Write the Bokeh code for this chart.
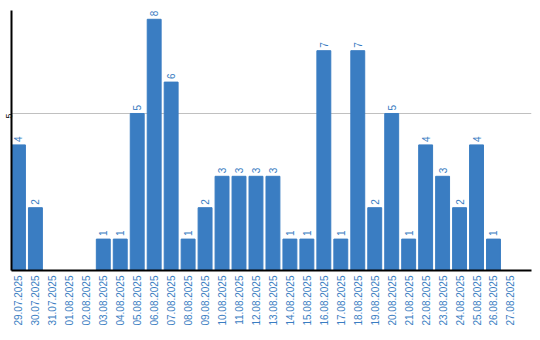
import math
from bokeh.plotting import figure
from bokeh.models import ColumnDataSource, FixedTicker, Range1d
from bokeh.core.properties import value
from bokeh.embed import file_html
from bokeh.resources import INLINE

dates = ["29.07.2025", "30.07.2025", "31.07.2025", "01.08.2025", "02.08.2025",
         "03.08.2025", "04.08.2025", "05.08.2025", "06.08.2025", "07.08.2025",
         "08.08.2025", "09.08.2025", "10.08.2025", "11.08.2025", "12.08.2025",
         "13.08.2025", "14.08.2025", "15.08.2025", "16.08.2025", "17.08.2025",
         "18.08.2025", "19.08.2025", "20.08.2025", "21.08.2025", "22.08.2025",
         "23.08.2025", "24.08.2025", "25.08.2025", "26.08.2025", "27.08.2025"]
counts = [4, 2, 0, 0, 0, 1, 1, 5, 8, 6, 1, 2, 3, 3, 3, 3, 1, 1, 7, 1, 7, 2, 5, 1, 4, 3, 2, 4, 1, 0]

BLUE = "#3a7dc2"

src = ColumnDataSource(dict(
    x=list(range(len(dates))),
    y=counts,
    lab=[str(c) if c > 0 else "" for c in counts],
))

p = figure(width=540, height=340, output_backend="svg", toolbar_location=None,
           x_range=Range1d(-0.41, 30.24), y_range=Range1d(0, 8.28),
           min_border_left=0, min_border_right=9, min_border_top=10, min_border_bottom=70)
p.outline_line_color = None
p.background_fill_color = "white"

p.vbar(x="x", top="y", width=0.82, source=src, color=BLUE)
p.text(x="x", y="y", text="lab", source=src, angle=math.pi / 2, text_align="left",
       text_baseline="middle", x_offset=0, y_offset=-3, text_color=BLUE,
       text_font=value("Liberation Sans"), text_font_size="10px")

p.xgrid.grid_line_color = None
p.ygrid.ticker = FixedTicker(ticks=[5])
p.ygrid.grid_line_color = "#c0c0c0"
p.ygrid.grid_line_width = 1

p.yaxis.ticker = FixedTicker(ticks=[5])
p.yaxis.major_label_orientation = math.pi / 2
p.yaxis.major_tick_line_color = None
p.yaxis.minor_tick_line_color = None
p.yaxis.major_tick_out = 0
p.yaxis.major_tick_in = 0
p.yaxis.minor_tick_out = 0
p.yaxis.axis_line_color = "black"
p.yaxis.axis_line_width = 2
p.yaxis.major_label_text_font = "Liberation Sans"
p.yaxis.major_label_text_font_size = "9px"
p.yaxis.major_label_text_color = "black"
p.yaxis.major_label_standoff = 2

p.xaxis.ticker = FixedTicker(ticks=list(range(len(dates))))
p.xaxis.major_label_overrides = {i: d for i, d in enumerate(dates)}
p.xaxis.major_label_orientation = math.pi / 2
p.xaxis.major_tick_line_color = None
p.xaxis.minor_tick_line_color = None
p.xaxis.major_tick_out = 0
p.xaxis.major_tick_in = 0
p.xaxis.axis_line_color = "black"
p.xaxis.axis_line_width = 2
p.xaxis.major_label_text_font = "Liberation Sans"
p.xaxis.major_label_text_font_size = "10px"
p.xaxis.major_label_text_color = BLUE
p.xaxis.major_label_standoff = 5

open("out.html", "w").write(file_html(p, INLINE))
